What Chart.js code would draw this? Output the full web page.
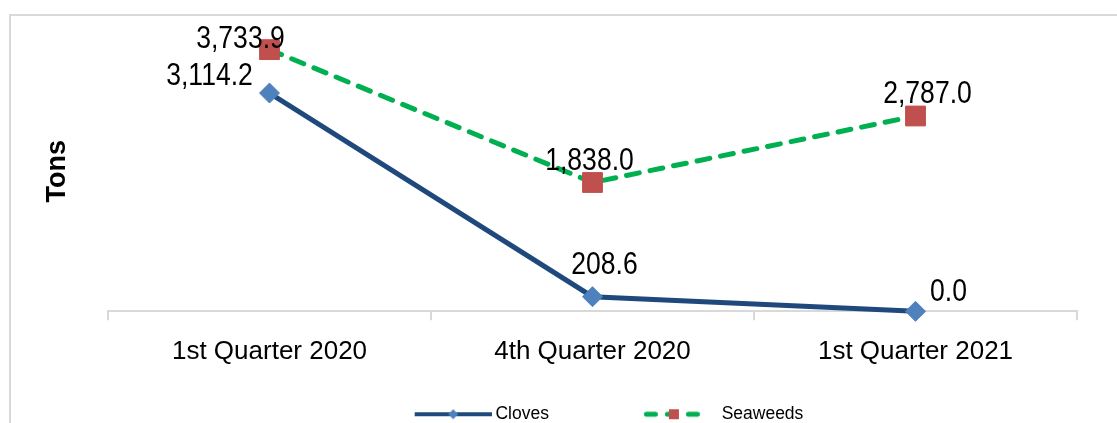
<!DOCTYPE html>
<html>
<head>
<meta charset="utf-8">
<script src="https://cdn.jsdelivr.net/npm/chart.js@4.4.1/dist/chart.umd.min.js"></script>
<style>
  html, body { margin: 0; padding: 0; background: #fff; overflow: hidden; }
  #wrap { position: relative; width: 1117px; height: 433px; }
  #frame { position: absolute; left: 9px; top: 14px; width: 1300px; height: 600px;
           border-left: 2px solid #d9d9d9; border-top: 2px solid #d9d9d9; }
  #chart { position: absolute; left: 0; top: 0; }
</style>
</head>
<body>
<div id="wrap"><div id="frame"></div><canvas id="chart"></canvas></div>
<script>
// chart data
const categories = ['1st Quarter 2020', '4th Quarter 2020', '1st Quarter 2021'];
const seriesNames = ['Cloves', 'Seaweeds'];
const cloves = [3114.2, 208.6, 0.0];
const seaweeds = [3733.9, 1838.0, 2787.0];
const yMin = 0;
const yMax = 4000;

const FONT = "'Liberation Sans', Arial, sans-serif";
Chart.defaults.font.family = FONT;
Chart.defaults.color = '#000';

// legend swatch: line with the marker in the middle, drawn into a small canvas
const SWATCH_BOX = 142;
function legendSwatch(lineColor, markerColor, marker, dashed, len, rightGap) {
    const c = document.createElement('canvas');
    c.width = SWATCH_BOX + 10;
    c.height = 16;
    const g = c.getContext('2d');
    const x1 = c.width - rightGap;
    const x0 = x1 - len;
    g.strokeStyle = lineColor;
    g.lineWidth = dashed ? 5 : 4;
    if (dashed) {
        g.lineCap = 'round';
        g.setLineDash([9, 12]);
    }
    g.beginPath();
    g.moveTo(x0 + (dashed ? 2.5 : 0), 8);
    g.lineTo(x1 - (dashed ? 2.5 : 0), 8);
    g.stroke();
    g.setLineDash([]);
    g.fillStyle = markerColor;
    const mx = x0 + len / 2;
    if (marker === 'diamond') {
        g.beginPath();
        g.moveTo(mx - 5, 8); g.lineTo(mx, 3); g.lineTo(mx + 5, 8); g.lineTo(mx, 13);
        g.closePath();
        g.fill();
    } else {
        g.fillRect(mx - 5, 3, 10, 10);
    }
    return c;
}

const swatches = [
    legendSwatch('#1F497D', '#4F81BD', 'diamond', false, 77, 0),
    legendSwatch('#00B050', '#C0504D', 'square', true, 60, 14)
];

// value labels above the points (narrow look: squeezed horizontally)
const valueLabels = {
    id: 'valueLabels',
    afterDatasetsDraw(chart, args, opts) {
        const ctx = chart.ctx;
        chart.data.datasets.forEach((ds, i) => {
            const meta = chart.getDatasetMeta(i);
            meta.data.forEach((pt, j) => {
                const off = opts.offsets[i][j];
                const txt = ds.data[j].toLocaleString('en-US', { minimumFractionDigits: 1, maximumFractionDigits: 1 });
                ctx.save();
                ctx.translate(pt.x + off[0], pt.y + off[1]);
                ctx.scale(opts.squeeze, 1);
                ctx.font = opts.size + 'px ' + FONT;
                ctx.fillStyle = opts.color;
                ctx.textAlign = 'center';
                ctx.textBaseline = 'middle';
                ctx.fillText(txt, 0, 0);
                ctx.restore();
            });
        });
    }
};

new Chart(document.getElementById('chart'), {
    type: 'line',
    data: {
        labels: categories,
        datasets: [{
            label: seriesNames[0],
            data: cloves,
            borderColor: '#1F497D',
            borderWidth: 5,
            pointStyle: 'rectRot',
            pointRadius: 10,
            pointBackgroundColor: '#4F81BD',
            pointBorderColor: '#4F81BD',
            pointBorderWidth: 1,
            tension: 0,
            clip: false
        }, {
            label: seriesNames[1],
            data: seaweeds,
            borderColor: '#00B050',
            borderWidth: 5,
            borderDash: [13, 11],
            borderCapStyle: 'round',
            pointStyle: 'rect',
            pointRadius: 14,
            pointBackgroundColor: '#C0504D',
            pointBorderColor: '#C0504D',
            pointBorderWidth: 1,
            tension: 0,
            clip: false
        }]
    },
    options: {
        responsive: true,
        maintainAspectRatio: false,
        animation: false,
        layout: {
            padding: { left: 71, right: 40, top: 31, bottom: 0 }
        },
        scales: {
            x: {
                offset: true,
                grid: {
                    offset: true,
                    drawOnChartArea: false,
                    color: '#d9d9d9',
                    lineWidth: 2,
                    tickLength: 9
                },
                border: { color: '#d9d9d9', width: 2 },
                ticks: {
                    color: '#000',
                    font: { size: 26 },
                    padding: 16,
                    maxRotation: 0,
                    autoSkip: false
                }
            },
            y: {
                min: yMin,
                max: yMax,
                grid: { display: false, drawTicks: false },
                border: { display: false },
                ticks: { display: false },
                title: {
                    display: true,
                    text: 'Tons',
                    color: '#000',
                    font: { size: 27, weight: 'bold' },
                    padding: { top: -29.5, bottom: 34.1 }
                }
            }
        },
        plugins: {
            legend: {
                position: 'bottom',
                labels: {
                    usePointStyle: true,
                    pointStyleWidth: SWATCH_BOX,
                    padding: 22,
                    color: '#000',
                    font: { size: 17.5 },
                    generateLabels: chart => chart.data.datasets.map((ds, i) => ({
                        text: ds.label,
                        pointStyle: swatches[i],
                        datasetIndex: i,
                        hidden: false,
                        lineWidth: 0,
                        fillStyle: 'transparent',
                        strokeStyle: 'transparent',
                        fontColor: '#000'
                    }))
                }
            },
            tooltip: { enabled: false },
            valueLabels: {
                size: 32,
                squeeze: 0.83,
                color: '#000',
                offsets: [
                    [[-60, -17], [12, -32], [33, -19]],
                    [[-29, -10], [-3, -21], [12, -22]]
                ]
            }
        }
    },
    plugins: [valueLabels]
});
</script>
</body>
</html>
